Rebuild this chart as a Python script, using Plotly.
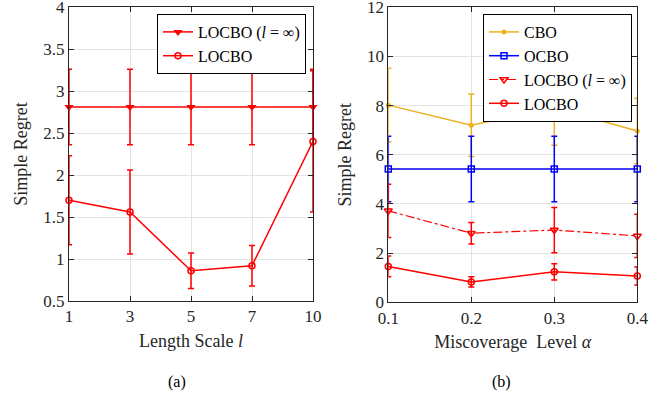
import plotly.graph_objects as go

# ---- data: panel (a) ----
length_scales = ["1", "3", "5", "7", "10"]
locbo_inf_a = [2.81, 2.81, 2.81, 2.81, 2.81]
locbo_inf_a_err = [0.45, 0.45, 0.45, 0.45, 0.45]
locbo_a = [1.70, 1.56, 0.86, 0.92, 2.40]
locbo_a_err = [0.53, 0.50, 0.21, 0.24, 0.84]

# ---- data: panel (b) ----
alphas = [0.1, 0.2, 0.3, 0.4]
cbo_b = [8.02, 7.20, 7.92, 6.97]
cbo_b_err = [1.50, 1.27, 1.53, 1.33]
ocbo_b = [5.42, 5.42, 5.42, 5.42]
ocbo_b_err = [1.33, 1.33, 1.33, 1.33]
locbo_inf_b = [3.72, 2.81, 2.94, 2.70]
locbo_inf_b_err = [1.08, 0.44, 0.92, 0.88]
locbo_b = [1.46, 0.83, 1.24, 1.07]
locbo_b_err = [0.42, 0.21, 0.33, 0.37]

RED = "#FF0000"
BLUE = "#0000FF"
ORANGE = "#EDB120"
FONT = "Liberation Serif"
AX = "#262626"

def eb(vals, color):
    return dict(type="data", array=vals, visible=True, color=color, thickness=1.5, width=3)

fig = go.Figure()

fig.add_trace(go.Scatter(x=length_scales, y=locbo_inf_a, error_y=eb(locbo_inf_a_err, RED),
                         mode="lines+markers", name="LOCBO (<i>l</i> = ∞)", cliponaxis=False,
                         line=dict(color=RED, width=1.5),
                         marker=dict(symbol="triangle-down", size=8, color=RED),
                         xaxis="x", yaxis="y", legend="legend"))
fig.add_trace(go.Scatter(x=length_scales, y=locbo_a, error_y=eb(locbo_a_err, RED),
                         mode="lines+markers", name="LOCBO", cliponaxis=False,
                         line=dict(color=RED, width=1.5),
                         marker=dict(symbol="circle-open", size=6, color=RED, line=dict(width=1.5)),
                         xaxis="x", yaxis="y", legend="legend"))

fig.add_trace(go.Scatter(x=alphas, y=cbo_b, error_y=eb(cbo_b_err, ORANGE),
                         mode="lines+markers", name="CBO", cliponaxis=False,
                         line=dict(color=ORANGE, width=1.5),
                         marker=dict(symbol="circle", size=5, color=ORANGE),
                         xaxis="x2", yaxis="y2", legend="legend2"))
fig.add_trace(go.Scatter(x=alphas, y=ocbo_b, error_y=eb(ocbo_b_err, BLUE),
                         mode="lines+markers", name="OCBO", cliponaxis=False,
                         line=dict(color=BLUE, width=1.5),
                         marker=dict(symbol="square-open", size=6, color=BLUE, line=dict(width=1.5)),
                         xaxis="x2", yaxis="y2", legend="legend2"))
fig.add_trace(go.Scatter(x=alphas, y=locbo_inf_b, error_y=eb(locbo_inf_b_err, RED),
                         mode="lines+markers", name="LOCBO (<i>l</i> = ∞)", cliponaxis=False,
                         line=dict(color=RED, width=1.2, dash="dashdot"),
                         marker=dict(symbol="triangle-down-open", size=7, color=RED, line=dict(width=1.5)),
                         xaxis="x2", yaxis="y2", legend="legend2"))
fig.add_trace(go.Scatter(x=alphas, y=locbo_b, error_y=eb(locbo_b_err, RED),
                         mode="lines+markers", name="LOCBO", cliponaxis=False,
                         line=dict(color=RED, width=1.5),
                         marker=dict(symbol="circle-open", size=6, color=RED, line=dict(width=1.5)),
                         xaxis="x2", yaxis="y2", legend="legend2"))

W, H = 667, 401
def px_x(p): return p / W
def px_y(p): return 1 - p / H

axis_common = dict(showline=True, mirror="ticks", linecolor=AX, linewidth=1,
                   ticks="inside", ticklen=5, tickcolor=AX, showgrid=True,
                   gridcolor="#E3E3E3", gridwidth=1, zeroline=False,
                   ticklabeloverflow="allow",
                   tickfont=dict(family=FONT, size=17, color=AX), automargin=False)
title_font = dict(family=FONT, size=18, color=AX)

fig.update_layout(
    width=W, height=H,
    margin=dict(l=0, r=0, t=0, b=0),
    paper_bgcolor="white", plot_bgcolor="white",
    font=dict(family=FONT, color=AX),
    xaxis=dict(axis_common, domain=[px_x(69), px_x(313)], type="category", range=[0, 4],
               anchor="y",
               title=dict(text="Length Scale <i>l</i>", font=title_font, standoff=8)),
    yaxis=dict(axis_common, domain=[px_y(301), px_y(7)], range=[0.5, 4], dtick=0.5,
               anchor="x", tickformat="~g",
               title=dict(text="Simple Regret", font=title_font, standoff=11)),
    xaxis2=dict(axis_common, domain=[px_x(388.3), px_x(637.3)], range=[0.1, 0.4], dtick=0.1,
                anchor="y2",
                title=dict(text="Miscoverage  Level <i>α</i>", font=title_font, standoff=8)),
    yaxis2=dict(axis_common, domain=[px_y(302.3), px_y(7.3)], range=[0, 12], dtick=2,
                anchor="x2",
                title=dict(text="Simple Regret", font=title_font, standoff=10)),
    legend=dict(x=px_x(306), y=px_y(14), xanchor="right", yanchor="top",
                bgcolor="white", bordercolor="#000000", borderwidth=1,
                font=dict(family=FONT, size=16, color="#000000"),
                tracegroupgap=0, itemwidth=30),
    legend2=dict(x=px_x(632), y=px_y(14), xanchor="right", yanchor="top",
                 bgcolor="white", bordercolor="#000000", borderwidth=1,
                 font=dict(family=FONT, size=16, color="#000000"),
                 tracegroupgap=0, itemwidth=30),
    showlegend=True,
    annotations=[
        dict(text="(a)", x=px_x(176.5), y=px_y(382), xref="paper", yref="paper",
             xanchor="center", yanchor="middle",
             showarrow=False, font=dict(family=FONT, size=16, color="#000000")),
        dict(text="(b)", x=px_x(501.5), y=px_y(382), xref="paper", yref="paper",
             xanchor="center", yanchor="middle",
             showarrow=False, font=dict(family=FONT, size=16, color="#000000")),
    ],
)

fig.write_html("out.html")
